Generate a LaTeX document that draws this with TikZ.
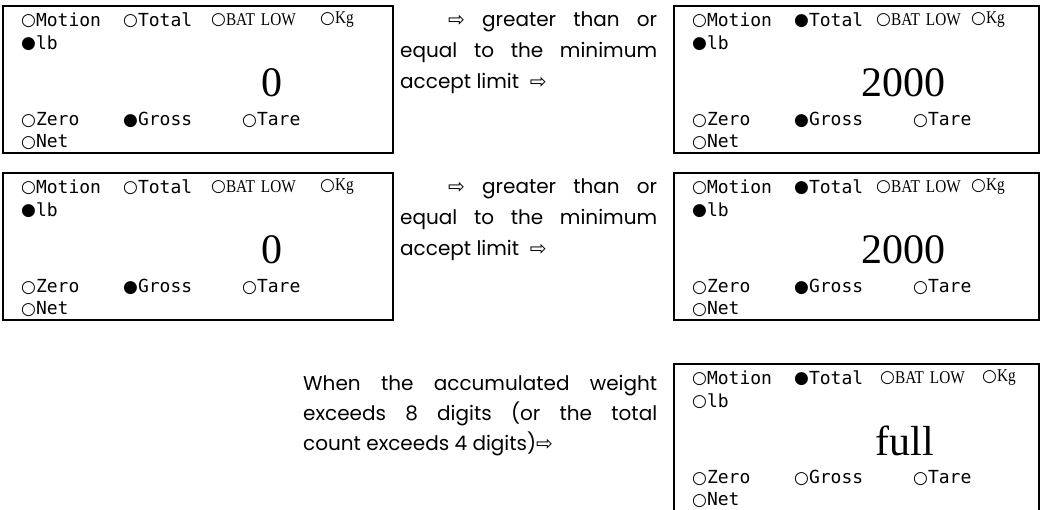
\documentclass[tikz,border=0pt]{standalone}
\usepackage{fontspec}
\setmainfont{Poppins}
\newfontfamily\monofont{DejaVu Sans Mono}
\newfontfamily\dotfont{DejaVu Sans}
\newfontfamily\lcdserif{Liberation Serif}
\newfontfamily\lcdnarrow[FakeStretch=0.85]{Liberation Serif}
\usetikzlibrary{positioning}

\newcommand{\ledon}{{\dotfont\fontsize{17}{17}\selectfont\raisebox{0.5pt}{●}}}
\newcommand{\ledoff}{{\dotfont\fontsize{17}{17}\selectfont\raisebox{0.5pt}{○}}}
\newcommand{\arr}{{\dotfont ⇨}}

\begin{document}
\begin{tikzpicture}[x=1pt,y=-1pt,
    disp/.style={draw,line width=2pt,inner sep=0pt,anchor=north west},
    lab/.style={anchor=west,inner sep=0pt,font=\monofont\fontsize{18}{18}\selectfont},
    ser/.style={anchor=west,inner sep=0pt,font=\lcdnarrow\fontsize{18}{18}\selectfont},
    big/.style={anchor=base,inner sep=0pt,font=\lcdserif\fontsize{42}{42}\selectfont},
    note/.style={anchor=north west,inner sep=0pt,align=justify,font=\fontsize{20}{31}\selectfont}]

  \useasboundingbox (0,0) rectangle (1040,510);

  % Afficheurs
  \foreach \nm/\px/\py/\bw/\bh/\tot/\lb/\gr/\val/\vx/\bx/\kx in {
    d1/2/5/390/147/\ledoff/\ledon/\ledon/0/270/209/318,
    d2/673/5/365/147/\ledon/\ledon/\ledon/2000/230/203/298,
    d3/2/172/390/147/\ledoff/\ledon/\ledon/0/270/209/318,
    d4/673/172/365/147/\ledon/\ledon/\ledon/2000/230/203/298,
    d5/673/363/365/152/\ledon/\ledoff/\ledoff/full/232/207/309
  } {
    \begin{scope}[shift={(\px,\py)}]
      \node[disp,minimum width=\bw pt,minimum height=\bh pt] (\nm) at (0,0) {};
      \node[lab] (\nm-mot) at (19,15) {\ledoff Motion};
      \node[lab] (\nm-tot) at (121,15) {\tot Total};
      \node[ser] (\nm-bat) at (\bx,15) {\ledoff BAT\,\,LOW};
      \node[ser] (\nm-kg) at (\kx,15) {\ledoff Kg};
      \node[lab] (\nm-lb) at (19,38) {\lb lb};
      \node[big] (\nm-val) at (\vx,92) {\val};
      \node[lab] (\nm-zero) at (19,115) {\ledoff Zero};
      \node[lab] (\nm-gross) at (121,115) {\gr Gross};
      \node[lab] (\nm-tare) at (240,115) {\ledoff Tare};
      \node[lab] (\nm-net) at (19,137) {\ledoff Net};
    \end{scope}
  }

  % Textes
  \node[note,text width=257pt] (t1) at (400,12)
    {\hspace*{48pt}\arr\ greater than or\linebreak equal to the minimum\linebreak accept limit\ \ \arr};
  \node[note,text width=257pt] (t2) at (400,179)
    {\hspace*{48pt}\arr\ greater than or\linebreak equal to the minimum\linebreak accept limit\ \ \arr};
  \node[note,text width=354pt,font=\fontsize{20}{30}\selectfont] (t3) at (303,375)
    {When the accumulated weight\linebreak exceeds 8 digits (or the total\linebreak count exceeds 4 digits)\arr};

\end{tikzpicture}
\end{document}
